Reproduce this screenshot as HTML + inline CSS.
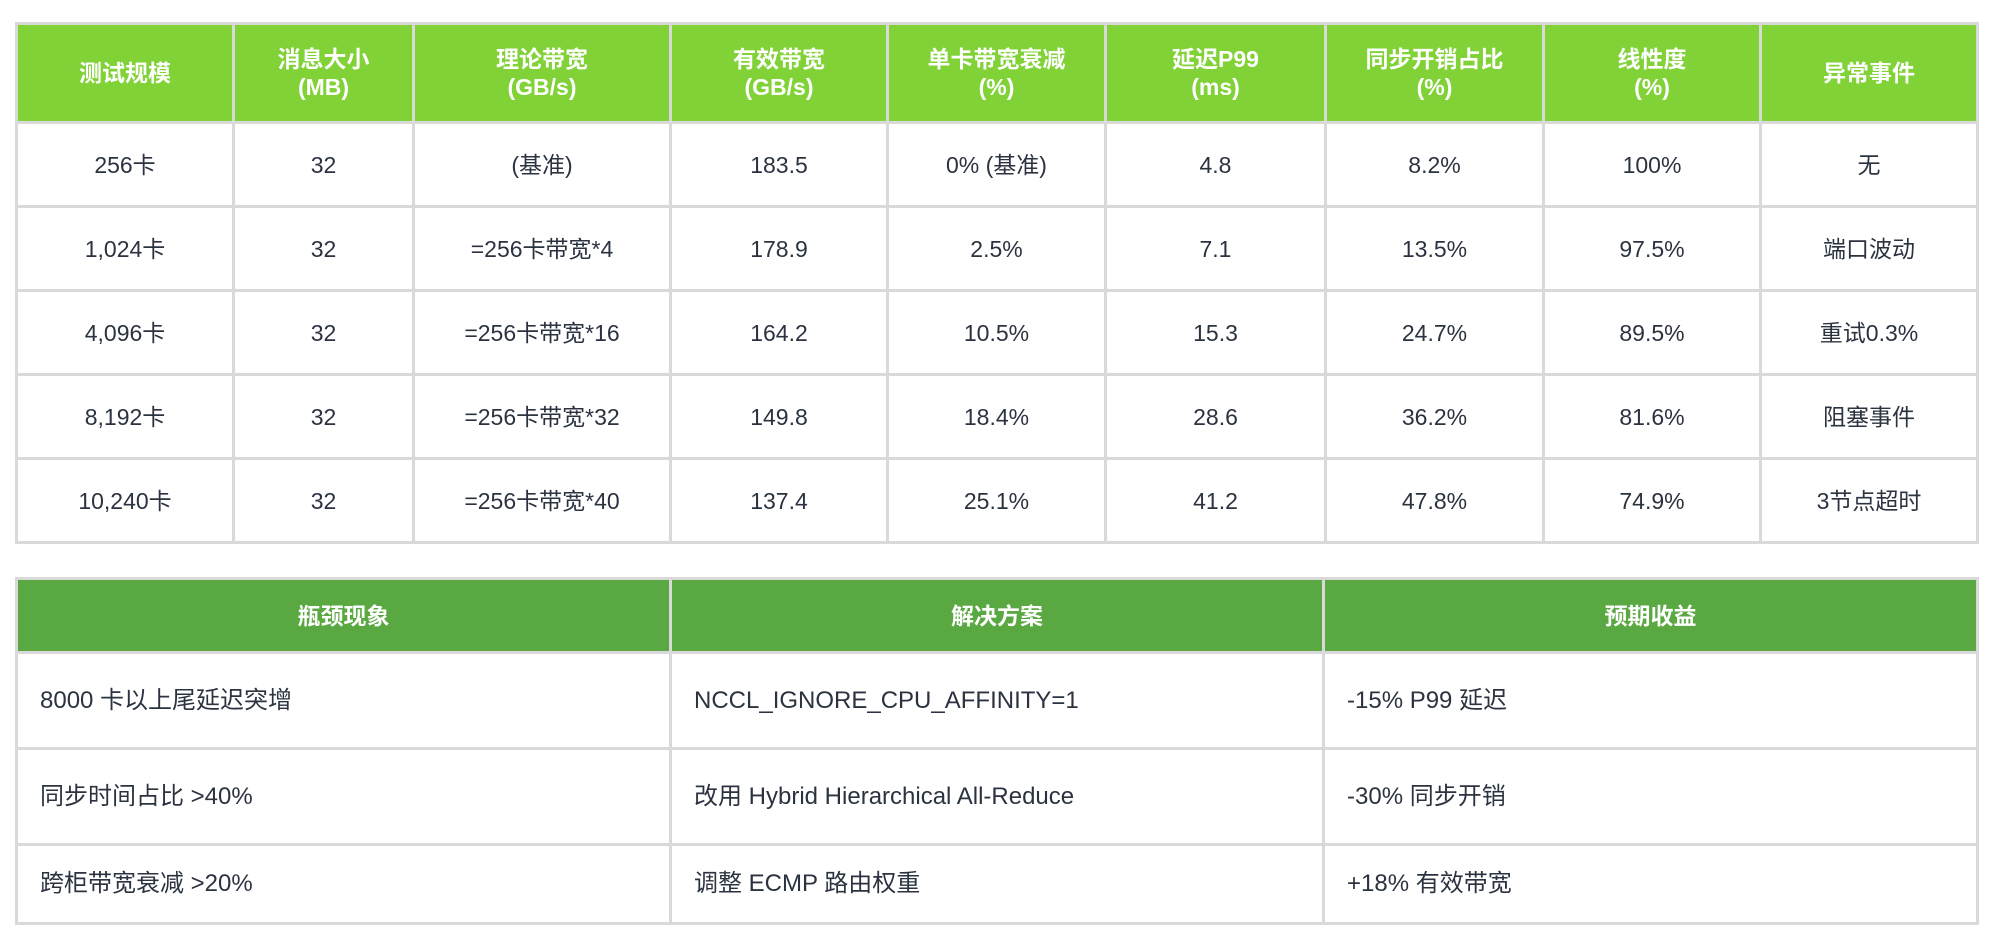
<!DOCTYPE html>
<html><head><meta charset="utf-8"><style>
body{margin:0;width:1990px;height:940px;background:#fff;font-family:"Liberation Sans","Noto Sans CJK SC",sans-serif;color:#2b3340;position:relative;overflow:hidden}
table{position:absolute;border-collapse:collapse;table-layout:fixed}
td,th{border:3px solid #d9d9d9;padding:0;text-align:center;vertical-align:middle}
th{color:#fff;font-weight:bold;font-size:23px;line-height:28px}
td{font-size:23px;line-height:30px}
#t1{left:15px;top:22px;width:1961px}
#t1 th{background:#80d236;height:96px}
#t1 td{height:81px}
#t2{left:15px;top:577px;width:1961px}
#t2 th{background:#5aa841;height:71px}
#t2 td{text-align:left;padding-left:22px;font-size:24px}
</style></head><body>
<table id="t1">
<colgroup><col style="width:217px"><col style="width:180px"><col style="width:257px"><col style="width:217px"><col style="width:218px"><col style="width:220px"><col style="width:218px"><col style="width:217px"><col style="width:217px"></colgroup>
<tr><th>测试规模</th><th>消息大小<br>(MB)</th><th>理论带宽<br>(GB/s)</th><th>有效带宽<br>(GB/s)</th><th>单卡带宽衰减<br>(%)</th><th>延迟P99<br>(ms)</th><th>同步开销占比<br>(%)</th><th>线性度<br>(%)</th><th>异常事件</th></tr>
<tr><td>256卡</td><td>32</td><td>(基准)</td><td>183.5</td><td>0% (基准)</td><td>4.8</td><td>8.2%</td><td>100%</td><td>无</td></tr>
<tr><td>1,024卡</td><td>32</td><td>=256卡带宽*4</td><td>178.9</td><td>2.5%</td><td>7.1</td><td>13.5%</td><td>97.5%</td><td>端口波动</td></tr>
<tr><td>4,096卡</td><td>32</td><td>=256卡带宽*16</td><td>164.2</td><td>10.5%</td><td>15.3</td><td>24.7%</td><td>89.5%</td><td>重试0.3%</td></tr>
<tr><td>8,192卡</td><td>32</td><td>=256卡带宽*32</td><td>149.8</td><td>18.4%</td><td>28.6</td><td>36.2%</td><td>81.6%</td><td>阻塞事件</td></tr>
<tr><td>10,240卡</td><td>32</td><td>=256卡带宽*40</td><td>137.4</td><td>25.1%</td><td>41.2</td><td>47.8%</td><td>74.9%</td><td>3节点超时</td></tr>
</table>
<table id="t2">
<colgroup><col style="width:654px"><col style="width:653px"><col style="width:654px"></colgroup>
<tr><th>瓶颈现象</th><th>解决方案</th><th>预期收益</th></tr>
<tr><td style="height:93px">8000 卡以上尾延迟突增</td><td>NCCL_IGNORE_CPU_AFFINITY=1</td><td>-15% P99 延迟</td></tr>
<tr><td style="height:93px">同步时间占比 &gt;40%</td><td>改用 Hybrid Hierarchical All-Reduce</td><td>-30% 同步开销</td></tr>
<tr><td style="height:76px">跨柜带宽衰减 &gt;20%</td><td>调整 ECMP 路由权重</td><td>+18% 有效带宽</td></tr>
</table>
</body></html>
